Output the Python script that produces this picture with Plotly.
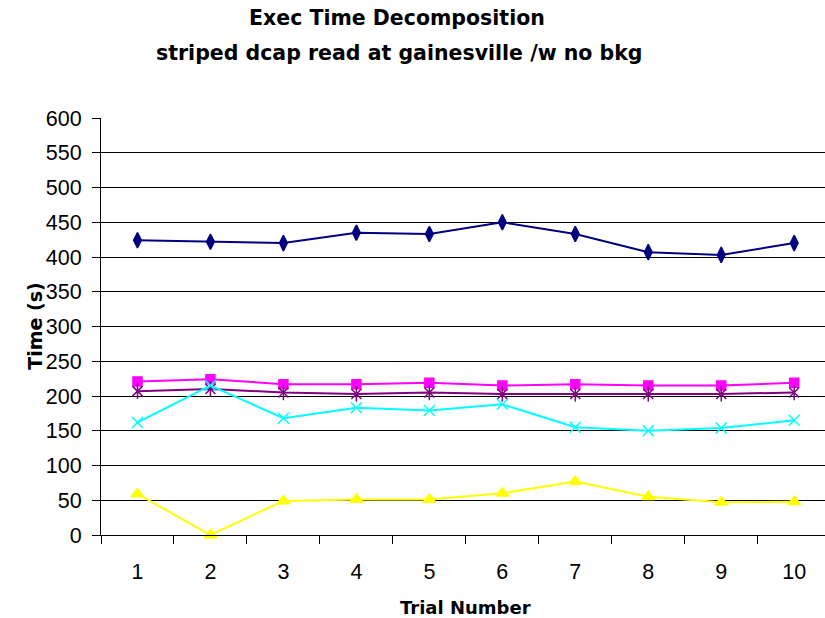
import plotly.graph_objects as go

trials = [1, 2, 3, 4, 5, 6, 7, 8, 9, 10]
series_a = [424, 422, 420, 435, 433, 450, 433, 407, 403, 420]   # navy diamonds
series_b = [221, 224, 217, 217, 219, 215, 217, 215, 215, 219]   # magenta squares
series_c = [207, 210, 205, 203, 205, 203, 203, 203, 203, 205]   # purple stars
series_d = [162, 215, 168, 183, 179, 188, 155, 150, 154, 165]   # cyan crosses
series_e = [59, 0, 49, 51, 51, 60, 77, 55, 47, 48]              # yellow triangles
y_ticks = [0, 50, 100, 150, 200, 250, 300, 350, 400, 450, 500, 550, 600]

W, H = 825, 618
L, T, B = 100.7, 118, 83
cat_w = 73.0
x_lo = 0.5
x_hi = 0.5 + (W - L) / cat_w

fig = go.Figure()

def add(y, color, symbol, size, lw=2, name=""):
    fig.add_trace(go.Scatter(
        x=trials, y=y, mode="lines+markers", name=name,
        line=dict(color=color, width=lw),
        marker=dict(symbol=symbol, size=size, color=color,
                    line=dict(color=color, width=1.5)),
        cliponaxis=False, showlegend=False))

add(series_a, "#000080", "diamond-tall", 11, 2)
add(series_b, "#FF00FF", "square", 9, 2)
add(series_c, "#800080", "x-thin-open", 10, 2)
fig.add_trace(go.Scatter(x=trials, y=series_c, mode="markers",
                         marker=dict(symbol="line-ns-open", size=11, color="#800080",
                                     line=dict(color="#800080", width=1.5)),
                         cliponaxis=False, showlegend=False))
add(series_d, "#00FFFF", "x-thin-open", 11, 2)
add(series_e, "#FFFF00", "triangle-up", 11, 2)

tickfont = dict(family="Liberation Sans, Arial, sans-serif", size=21.5, color="black")
boldfont = "DejaVu Sans, Verdana, sans-serif"

fig.update_layout(
    width=W, height=H,
    margin=dict(l=L, r=0, t=T, b=B),
    paper_bgcolor="white", plot_bgcolor="white",
    xaxis=dict(range=[x_lo, x_hi], tickmode="array", tickvals=trials,
               ticktext=[str(t) for t in trials], ticks="",
               showgrid=False, zeroline=False, showline=True,
               linecolor="black", linewidth=1, tickfont=tickfont,
               ticklabelstandoff=17,
               minor=dict(tickmode="linear", tick0=0.5, dtick=1, ticks="outside",
                          ticklen=8, tickcolor="black", tickwidth=1, showgrid=False)),
    yaxis=dict(range=[0, 600], tickmode="array", tickvals=y_ticks,
               ticks="outside", ticklen=8, tickcolor="black", tickwidth=1,
               showgrid=True, gridcolor="black", gridwidth=1,
               zeroline=False, showline=True, linecolor="black", linewidth=1,
               tickfont=tickfont, ticklabelstandoff=6),
    annotations=[
        dict(text="<b>Exec Time Decomposition</b>", xref="paper", yref="paper",
             x=(397 - L) / (W - L), y=1 + (T - 18) / (H - T - B),
             showarrow=False, xanchor="center", yanchor="middle",
             font=dict(family=boldfont, size=20.5, color="black")),
        dict(text="<b>striped dcap read at gainesville /w no bkg</b>", xref="paper", yref="paper",
             x=(399 - L) / (W - L), y=1 + (T - 53) / (H - T - B),
             showarrow=False, xanchor="center", yanchor="middle",
             font=dict(family=boldfont, size=20.5, color="black")),
        dict(text="<b>Time (s)</b>", xref="paper", yref="paper",
             x=-(L - 34) / (W - L), y=0.5, textangle=-90,
             showarrow=False, xanchor="center", yanchor="middle",
             font=dict(family=boldfont, size=19, color="black")),
        dict(text="<b>Trial Number</b>", xref="x", yref="paper",
             x=5.5, y=-(607 - (H - B)) / (H - T - B),
             showarrow=False, xanchor="center", yanchor="middle",
             font=dict(family=boldfont, size=18, color="black")),
    ],
)

fig.write_html("out.html")
